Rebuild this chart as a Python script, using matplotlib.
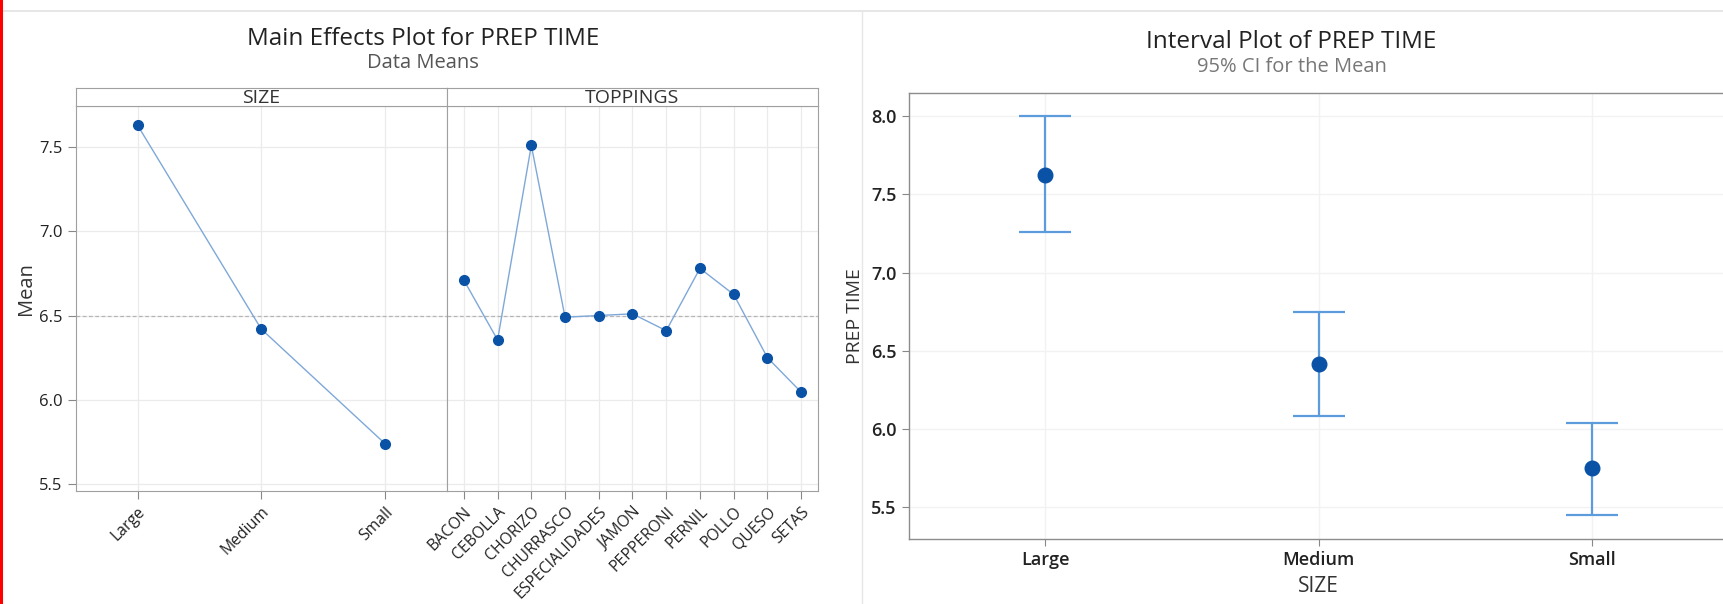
import numpy as np
import matplotlib
matplotlib.use('Agg')
import matplotlib.pyplot as plt
from matplotlib.lines import Line2D

plt.rcParams['font.family'] = ['Open Sans', 'DejaVu Sans']

# ---- data ----
size_levels = ['Large', 'Medium', 'Small']
size_means = [7.63, 6.42, 5.74]

toppings = ['BACON', 'CEBOLLA', 'CHORIZO', 'CHURRASCO', 'ESPECIALIDADES', 'JAMON',
            'PEPPERONI', 'PERNIL', 'POLLO', 'QUESO', 'SETAS']
topping_means = [6.71, 6.355, 7.51, 6.49, 6.50, 6.51, 6.41, 6.78, 6.625, 6.25, 6.045]
grand_mean = 6.5

ci_mean = [7.626, 6.419, 5.749]
ci_low = [7.257, 6.083, 5.449]
ci_high = [8.0, 6.749, 6.041]

W, H = 1723, 604
LINE = '#7fa8d8'
DOT = '#0a52a6'
ERR = '#5c9bdc'
GRID = '#ebebeb'
SPINE = '#a0a0a0'
TXT = '#222222'


def px(x0, y0, x1, y1):
    """pixel box (top-left origin) -> figure fraction rect"""
    return [x0 / W, 1 - y1 / H, (x1 - x0) / W, (y1 - y0) / H]


fig = plt.figure(figsize=(W / 100, H / 100), dpi=100)

# ---------------- main effects plot ----------------
panels = [(size_levels, size_means, 75.7, 'SIZE'),
          (toppings, topping_means, 447.0, 'TOPPINGS')]
for i, (cats, vals, x0, name) in enumerate(panels):
    ax = fig.add_axes(px(x0, 106.3, x0 + 371, 490.7))
    xs = np.arange(len(cats))
    ax.axhline(grand_mean, color='#b5b5b5', lw=0.9, ls=(0, (3, 2)), zorder=1)
    ax.plot(xs, vals, color=LINE, lw=1.0, zorder=2)
    ax.plot(xs, vals, 'o', color=DOT, ms=7, zorder=3)
    ax.set_xlim(-0.5, len(cats) - 0.5)
    ax.set_ylim(5.46, 7.742)
    ax.set_yticks([5.5, 6.0, 6.5, 7.0, 7.5])
    ax.set_xticks(xs)
    ax.set_xticklabels(cats, rotation=45, ha='right', rotation_mode='anchor',
                       fontsize=11.3, color=TXT)
    ax.grid(True, color=GRID, lw=0.9)
    ax.set_axisbelow(True)
    for s in ax.spines.values():
        s.set_color(SPINE)
    ax.tick_params(colors='#888888', length=6, width=0.8, labelcolor=TXT,
                   labelsize=12)
    ax.tick_params(axis='x', labelsize=11.3)
    if i == 0:
        ax.set_yticklabels(['5.5', '6.0', '6.5', '7.0', '7.5'])
    else:
        ax.tick_params(axis='y', left=False, labelleft=False)
    # strip header
    sa = fig.add_axes(px(x0, 88.3, x0 + 371, 106.3))
    sa.set_xticks([]); sa.set_yticks([])
    for s in sa.spines.values():
        s.set_color(SPINE)
    sa.text(0.5, 0.45, name, ha='center', va='center', fontsize=14,
            color='#333333', transform=sa.transAxes)

fig.text(423 / W, 1 - 39 / H, 'Main Effects Plot for PREP TIME', ha='center',
         va='center', fontsize=17.5, fontweight='medium', color=TXT)
fig.text(423 / W, 1 - 63 / H, 'Data Means', ha='center', va='center',
         fontsize=14.5, color='#555555')
fig.text(26 / W, 1 - 289 / H, 'Mean', ha='center', va='center', rotation=90,
         fontsize=14.5, color='#333333')

# ---------------- interval plot ----------------
ax = fig.add_axes(px(908.5, 93.3, 1729, 539.3))
xs = np.arange(len(size_levels))
lo = np.array(ci_mean) - np.array(ci_low)
hi = np.array(ci_high) - np.array(ci_mean)
ax.errorbar(xs, ci_mean, yerr=[lo, hi], fmt='none', ecolor=ERR, elinewidth=1.6,
            capsize=19, capthick=1.6, zorder=2)
ax.plot(xs, ci_mean, 'o', color=DOT, ms=10.5, zorder=3)
ax.set_xlim(-0.5, 2.5)
ax.set_ylim(5.295, 8.147)
ax.set_yticks([5.5, 6.0, 6.5, 7.0, 7.5, 8.0])
ax.set_yticklabels(['5.5', '6.0', '6.5', '7.0', '7.5', '8.0'])
ax.set_xticks(xs)
ax.set_xticklabels(size_levels)
ax.grid(True, color='#f2f2f2', lw=1.0)
ax.set_axisbelow(True)
for s in ax.spines.values():
    s.set_color('#8c8c8c')
    s.set_linewidth(1.0)
ax.tick_params(colors='#888888', length=5, width=0.8, labelcolor=TXT,
               labelsize=13)
for lab in ax.get_xticklabels() + ax.get_yticklabels():
    lab.set_fontweight('semibold')

fig.text(1291 / W, 1 - 42 / H, 'Interval Plot of PREP TIME', ha='center',
         va='center', fontsize=17.5, fontweight='medium', color=TXT)
fig.text(1292 / W, 1 - 67 / H, '95% CI for the Mean', ha='center', va='center',
         fontsize=14.5, color='#777777')
fig.text(855 / W, 1 - 316 / H, 'PREP TIME', ha='center', va='center',
         rotation=90, fontsize=14, color='#333333')
fig.text(1318 / W, 1 - 587 / H, 'SIZE', ha='center', va='center', fontsize=15,
         color='#333333')

# screenshot frame bits: top rule, panel divider, red edge
fig.add_artist(Line2D([0, 1], [1 - 11 / H, 1 - 11 / H], color='#e2e2e2', lw=1.2))
fig.add_artist(Line2D([861.7 / W, 861.7 / W], [0, 1 - 12 / H], color='#e6e6e6', lw=1.0))
fig.add_artist(Line2D([1 / W, 1 / W], [0, 1], color='#ff0000', lw=2.2))

fig.savefig('out.png', dpi=100)
